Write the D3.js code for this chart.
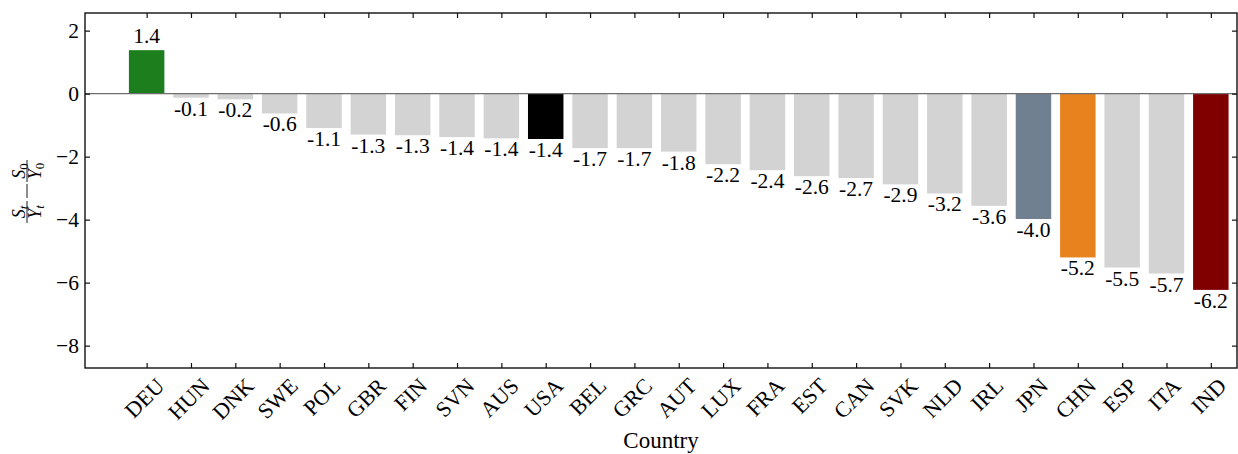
<!DOCTYPE html>
<html>
<head>
<meta charset="utf-8">
<script src="https://cdn.jsdelivr.net/npm/d3@7"></script>
<style>
  html, body { margin: 0; padding: 0; background: #fff; }
  svg { display: block; }
  text { font-family: "Liberation Serif", "DejaVu Serif", serif; fill: #000; }
</style>
</head>
<body>
<svg id="chart" width="1238" height="454"></svg>
<script>
const countries = ["DEU","HUN","DNK","SWE","POL","GBR","FIN","SVN","AUS","USA","BEL","GRC","AUT","LUX","FRA","EST","CAN","SVK","NLD","IRL","JPN","CHN","ESP","ITA","IND"];
const values = [1.38,-0.13,-0.18,-0.63,-1.09,-1.30,-1.32,-1.38,-1.42,-1.44,-1.73,-1.73,-1.84,-2.24,-2.43,-2.62,-2.68,-2.88,-3.17,-3.56,-3.98,-5.20,-5.52,-5.71,-6.23];
const highlight = {DEU:"#1d7e1d", USA:"#000000", JPN:"#708090", CHN:"#e8821f", IND:"#800000"};
const yTicks = [2,0,-2,-4,-6,-8];

const svg = d3.select("#chart");
const L = 85, R = 1237, T = 13, B = 368;
const x = d3.scaleLinear().domain([-1.39, 24.59]).range([L, R]);
const y = d3.scaleLinear().domain([-8.71, 2.56]).range([B, T]);
const bw = 0.8;
const fs = 21.5;

// bars
svg.append("g").selectAll("rect").data(countries).join("rect")
  .attr("x", (d,i) => x(i - bw/2))
  .attr("width", (d,i) => x(i + bw/2) - x(i - bw/2))
  .attr("y", (d,i) => y(Math.max(0, values[i])))
  .attr("height", (d,i) => Math.abs(y(values[i]) - y(0)))
  .attr("fill", d => highlight[d] || "#d3d3d3");

// zero line
svg.append("line").attr("x1", L).attr("x2", R).attr("y1", y(0)).attr("y2", y(0))
  .attr("stroke", "#6e6e6e").attr("stroke-width", 1.2);

// bar labels
svg.append("g").selectAll("text").data(countries).join("text")
  .attr("x", (d,i) => x(i))
  .attr("y", (d,i) => values[i] >= 0 ? y(values[i]) - 7 : y(values[i]) + 18)
  .attr("text-anchor", "middle")
  .attr("font-size", fs)
  .text((d,i) => values[i].toFixed(1));

// frame
svg.append("rect").attr("x", L).attr("y", T).attr("width", R-L).attr("height", B-T)
  .attr("fill", "none").attr("stroke", "#111").attr("stroke-width", 1.4);

// y axis (ticks inward) left and right
const yAxisL = d3.axisLeft(y).tickValues(yTicks).tickSizeInner(-5).tickSizeOuter(0).tickPadding(6)
  .tickFormat(d => d < 0 ? "\u2212" + Math.abs(d) : String(d));
const gyl = svg.append("g").attr("transform", `translate(${L},0)`).call(yAxisL);
gyl.select(".domain").remove();
gyl.selectAll("text").attr("font-size", fs).attr("font-family", "Liberation Serif").attr("fill", "#000");
gyl.selectAll("line").attr("stroke", "#111").attr("stroke-width", 1.2);

const gyr = svg.append("g").attr("transform", `translate(${R},0)`)
  .call(d3.axisRight(y).tickValues(yTicks).tickSizeInner(-5).tickSizeOuter(0).tickFormat(""));
gyr.select(".domain").remove();
gyr.selectAll("line").attr("stroke", "#111").attr("stroke-width", 1.2);

// x ticks top & bottom (inward)
const idx = countries.map((d,i) => i);
const gxb = svg.append("g").attr("transform", `translate(0,${B})`)
  .call(d3.axisBottom(x).tickValues(idx).tickSizeInner(-5).tickSizeOuter(0).tickFormat(""));
gxb.select(".domain").remove();
gxb.selectAll("line").attr("stroke", "#111").attr("stroke-width", 1.2);
const gxt = svg.append("g").attr("transform", `translate(0,${T})`)
  .call(d3.axisTop(x).tickValues(idx).tickSizeInner(-5).tickSizeOuter(0).tickFormat(""));
gxt.select(".domain").remove();
gxt.selectAll("line").attr("stroke", "#111").attr("stroke-width", 1.2);

// rotated x tick labels, bbox centred on tick
const xfs = 22;
const capH = xfs * 0.66;
const xl = svg.append("g");
countries.forEach((c, i) => {
  const t = xl.append("text").attr("font-size", xfs).attr("text-anchor", "middle").text(c);
  const len = t.node().getComputedTextLength();
  const cx = x(i) - 2;
  const cy = 377 + (len + capH) / (2 * Math.SQRT2);
  t.attr("transform", `translate(${cx},${cy}) rotate(-45)`).attr("dy", capH/2);
});

// x axis title
svg.append("text").attr("x", (L+R)/2 + 0).attr("y", 448).attr("text-anchor", "middle")
  .attr("font-size", 23).text("Country");

// y axis label: S_t/Y_t − S_0/Y_0
const yl = svg.append("g").attr("transform", "translate(27,191) rotate(-90)");
function frac(cx, num, den, italicSub) {
  const g = yl.append("g");
  const n = g.append("text").attr("x", cx).attr("y", -2.5).attr("text-anchor", "middle").attr("font-size", 18);
  n.append("tspan").attr("font-style", "italic").text(num);
  n.append("tspan").attr("font-size", 13).attr("dy", 3).attr("font-style", italicSub ? "italic" : "normal").text(italicSub ? "t" : "0");
  const d = g.append("text").attr("x", cx).attr("y", 14).attr("text-anchor", "middle").attr("font-size", 18);
  d.append("tspan").attr("font-style", "italic").text(den);
  d.append("tspan").attr("font-size", 13).attr("dy", 3).attr("font-style", italicSub ? "italic" : "normal").text(italicSub ? "t" : "0");
  g.append("line").attr("x1", cx - 11).attr("x2", cx + 11).attr("y1", 0).attr("y2", 0)
    .attr("stroke", "#000").attr("stroke-width", 0.9);
}
frac(-21, "S", "Y", true);
yl.append("line").attr("x1", -7).attr("x2", 7).attr("y1", 0).attr("y2", 0).attr("stroke", "#000").attr("stroke-width", 0.9);
frac(20, "S", "Y", false);
</script>
</body>
</html>
